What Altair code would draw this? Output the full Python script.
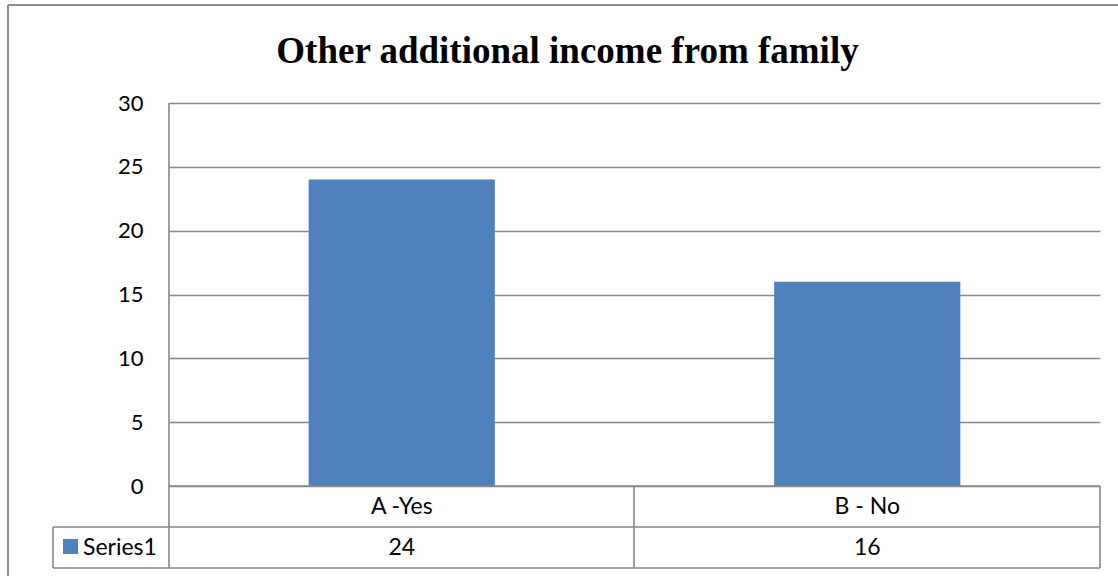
import altair as alt
import pandas as pd

categories = ["A -Yes", "B - No"]
values = [24, 16]
series_name = "Series1"
title_text = "Other additional income from family"
y_ticks = [0, 5, 10, 15, 20, 25, 30]

df = pd.DataFrame({"cat": categories, "val": values})

BAR = "#4F81BD"
LINE = "#878787"
FONT = "Lato"

xenc = alt.X("cat:N", scale=alt.Scale(domain=categories, paddingInner=0, paddingOuter=0), axis=None)
xenc_c = alt.X("cat:N", scale=alt.Scale(domain=categories, paddingInner=0, paddingOuter=0), axis=None, bandPosition=0.5)

base = alt.Chart(df)

bars = base.mark_bar(color=BAR, width=alt.RelativeBandSize(0.4)).encode(
    x=xenc,
    y=alt.Y("val:Q", scale=alt.Scale(domain=[0, 30], nice=False, zero=True),
            axis=alt.Axis(values=y_ticks, grid=True, gridColor=LINE, gridWidth=1.6,
                          ticks=False, domain=False, labelFont=FONT, labelFontSize=22,
                          labelColor="black", labelPadding=26, title=None)),
)

cat_labels = base.mark_text(font=FONT, fontSize=23, color="black", baseline="middle").encode(
    x=xenc_c, y=alt.value(404), text="cat:N"
)
val_labels = base.mark_text(font=FONT, fontSize=23, color="black", baseline="middle").encode(
    x=xenc_c, y=alt.value(445), text="val:Q"
)

one = alt.Chart(pd.DataFrame({"k": [0]}))

def vrule(x, y1, y2, color=LINE, w=1.6):
    return one.mark_rule(color=color, strokeWidth=w).encode(
        x=alt.value(x), y=alt.value(y1), y2=alt.value(y2))

def hrule(y, x1, x2, color=LINE, w=1.6):
    return one.mark_rule(color=color, strokeWidth=w).encode(
        y=alt.value(y), x=alt.value(x1), x2=alt.value(x2))

rules = [
    vrule(0, 0, 465),
    vrule(465, 383, 465),
    vrule(931, 383, 465),
    vrule(-116, 424, 465),
    hrule(424, -116, 931),
    hrule(465, -116, 931),
    hrule(383, 0, 931),
    vrule(-161, -98, 480, color="#8c8c8c", w=2),
    hrule(-98, -161, 960, color="#8c8c8c", w=2),
]

legend_key = one.mark_rect(color=BAR).encode(
    x=alt.value(-106), x2=alt.value(-91), y=alt.value(436), y2=alt.value(451)
)
legend_text = alt.Chart(pd.DataFrame({"s": [series_name]})).mark_text(
    font=FONT, fontSize=23, color="black", align="left", baseline="middle"
).encode(x=alt.value(-86), y=alt.value(445), text="s:N")

title = alt.Chart(pd.DataFrame({"t": [title_text]})).mark_text(
    font="Liberation Serif", fontSize=37, fontWeight="bold", color="black",
    align="center", baseline="alphabetic"
).encode(x=alt.value(398.5), y=alt.value(-40), text="t:N")

chart = alt.layer(bars, *rules, cat_labels, val_labels, legend_key, legend_text, title).properties(
    width=931, height=383,
    autosize=alt.AutoSizeParams(type="none"),
    padding={"left": 169, "top": 103, "right": 18, "bottom": 90},
    background="white",
).configure_view(stroke=None)

chart.save("out.html", embed_options={"renderer": "svg", "actions": False})
